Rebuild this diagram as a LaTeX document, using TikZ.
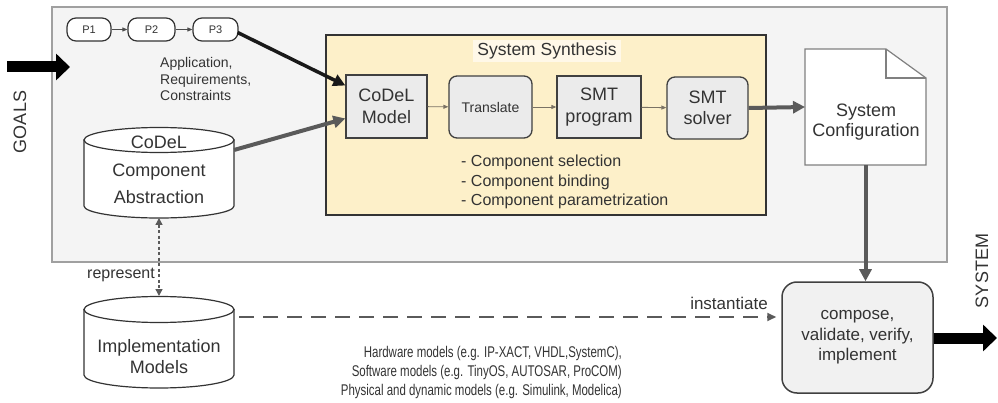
\documentclass[tikz,border=0pt]{standalone}
\usepackage{fontspec}
\setmainfont{Liberation Sans}
\newfontfamily\narrowsans[FakeStretch=0.74]{Liberation Sans}
\usetikzlibrary{arrows.meta}

\definecolor{ink}{HTML}{333333}
\definecolor{panelfill}{HTML}{F4F4F4}
\definecolor{paneledge}{HTML}{A0A0A0}
\definecolor{synthfill}{HTML}{FDF0C9}
\definecolor{titlefill}{HTML}{FFF8E8}
\definecolor{boxfill}{HTML}{EBEBEB}
\definecolor{flowgray}{HTML}{5A5A5A}
\definecolor{stepgray}{HTML}{7A7264}

\newcommand{\fsz}[2]{\fontsize{#1}{#2}\selectfont}

\begin{document}
\begin{tikzpicture}[x=1pt, y=-1pt,
  panel/.style={draw=paneledge, fill=panelfill, line width=1.2pt, inner sep=0},
  synth/.style={draw=black!80, fill=synthfill, line width=1.4pt, inner sep=0},
  stage/.style={draw=black!75, fill=boxfill, line width=1.3pt, text=ink,
    font=\fsz{18}{21.5}, align=center, inner sep=0},
  roundstage/.style={stage, rounded corners=8pt},
  pbox/.style={draw=black!80, fill=white, rounded corners=9pt, line width=1.2pt,
    font=\fsz{11}{13}, text=ink, minimum height=23, inner sep=0},
  lbl/.style={text=ink, inner sep=0},
  holder/.style={inner sep=0, outer sep=0},
  cylsty/.style={draw=black!80, fill=white, line width=1.2pt},
  docsty/.style={draw=black!50, fill=white, line width=1.2pt},
  smallflow/.style={-{Triangle[length=5pt,width=4pt]}, draw=stepgray, line width=0.9pt},
  heavygray/.style={-{Triangle[length=12pt,width=12pt]}, draw=flowgray, line width=4pt},
  heavyblack/.style={-{Triangle[length=12pt,width=12pt]}, draw=black!90, line width=3.5pt},
  fatarrow/.style={-{Triangle[length=14pt,width=26pt]}, draw=black, line width=11pt},
  linkflow/.style={{Triangle[length=7pt,width=7pt]}-{Triangle[length=7pt,width=7pt]},
    draw=flowgray, line width=1.4pt, dash pattern=on 3pt off 2.5pt},
  dashflow/.style={-{Triangle[length=9pt,width=8pt]}, draw=flowgray, line width=1.8pt,
    dash pattern=on 15pt off 9pt}
]
\useasboundingbox (0,0) rectangle (998,403);

% environment panel
\node[panel, minimum width=895, minimum height=255] (env) at (499.5,134.5) {};

% process steps
\node[pbox, minimum width=44] (p1) at (89,29.5) {P1};
\node[pbox, minimum width=47] (p2) at (151.5,29.5) {P2};
\node[pbox, minimum width=45] (p3) at (215.5,29.5) {P3};
\draw[smallflow, draw=black!70] (p1) -- (p2);
\draw[smallflow, draw=black!70] (p2) -- (p3);
\node[lbl, anchor=west, align=left, font=\fsz{14}{16.5}] at (160,79)
  {Application,\\Requirements,\\Constraints};

% synthesis block
\node[synth, minimum width=440, minimum height=180] (synth) at (546,125) {};
\node[lbl, fill=titlefill, inner xsep=4pt, inner ysep=3pt, font=\fsz{17.5}{20}] at (547,51) {System Synthesis};
\node[stage, minimum width=81, minimum height=63] (model) at (386.5,106.5) {CoDeL\\Model};
\node[roundstage, minimum width=83, minimum height=62, font=\fsz{14}{16}] (trans) at (490.5,107) {Translate};
\node[stage, minimum width=84, minimum height=62] (smtp) at (599,107) {SMT\\program};
\node[roundstage, minimum width=81, minimum height=62] (smts) at (707.5,108) {SMT\\solver};
\draw[smallflow] (model) -- (trans);
\draw[smallflow] (trans) -- (smtp);
\draw[smallflow] (smtp) -- (smts);
\node[lbl, anchor=west, align=left, font=\fsz{16}{19.5}] at (461,182)
  {- Component selection\\- Component binding\\- Component parametrization};

% component abstraction store
\node[holder, minimum width=150, minimum height=90] (cda) at (159,173) {};
\path[cylsty] (84,140) -- (84,206) arc[start angle=180, end angle=360, x radius=75pt, y radius=12pt]
  -- (234,140) -- cycle;
\draw[cylsty] (159,140) ellipse[x radius=75pt, y radius=12.5pt];
\node[lbl, align=center, font=\fsz{18}{27.5}] at (159,170) {CoDeL\\Component\\Abstraction};

% implementation models store
\node[holder, minimum width=150, minimum height=92] (impl) at (159,342) {};
\path[cylsty] (84,309.5) -- (84,375) arc[start angle=180, end angle=360, x radius=75pt, y radius=13pt]
  -- (234,309.5) -- cycle;
\draw[cylsty] (159,309.5) ellipse[x radius=75pt, y radius=13pt];
\node[lbl, align=center, font=\fsz{18}{21}] at (159,357) {Implementation\\Models};
\node[lbl, anchor=east, align=right, font=\narrowsans\fsz{15.5}{19}] at (622,372)
  {Hardware models (e.g. IP-XACT, VHDL,SystemC),\\
   Software models (e.g. TinyOS, AUTOSAR, ProCOM)\\
   Physical and dynamic models (e.g. Simulink, Modelica)};

% system configuration document
\node[holder, minimum width=121, minimum height=116] (cfg) at (865.5,107) {};
\draw[docsty] (805,49) -- (886,49) -- (926,78) -- (926,165) -- (805,165) -- cycle;
\draw[docsty, fill=none] (886,49) -- (886,78) -- (926,78);
\node[lbl, align=center, font=\fsz{18}{20}] at (866,122) {System\\Configuration};

% composition step
\node[stage, rounded corners=15pt, fill=boxfill!70!white, line width=1.5pt,
  minimum width=151, minimum height=111, font=\fsz{17}{20.5}] (comp) at (857.5,337.5)
  {compose,\\validate, verify,\\implement};

% flows
\draw[heavyblack] ([xshift=-1pt,yshift=-3pt]p3.east) -- ([yshift=21pt]model.west);
\draw[heavygray] ([yshift=23pt]cda.east) -- ([yshift=-12pt]model.west);
\draw[heavygray] (smts.east) -- (cfg.west);
\draw[heavygray] (cfg.south) -- (cfg.south |- comp.north);
\draw[linkflow] (cda.south) -- (impl.north);
\node[lbl, anchor=east, font=\fsz{16}{18}] at (155,275) {represent};
\draw[dashflow, shorten <=5pt, shorten >=5pt] ([yshift=25pt]impl.east) -- ([yshift=20.5pt]comp.west);
\node[lbl, font=\fsz{17}{19}] at (729,303) {instantiate};

% goals in, system out
\coordinate (goalsin) at (7,67);
\coordinate (goalsend) at (70,67);
\draw[fatarrow] (goalsin) -- (goalsend);
\node[lbl, rotate=90, font=\fsz{18}{20}] at (20,122) {GOALS};
\coordinate (sysout) at (997,338);
\draw[fatarrow] (comp.east |- sysout) -- (sysout);
\node[lbl, rotate=90, font=\fsz{18}{20}] at (982,271) {SYSTEM};
\end{tikzpicture}
\end{document}
